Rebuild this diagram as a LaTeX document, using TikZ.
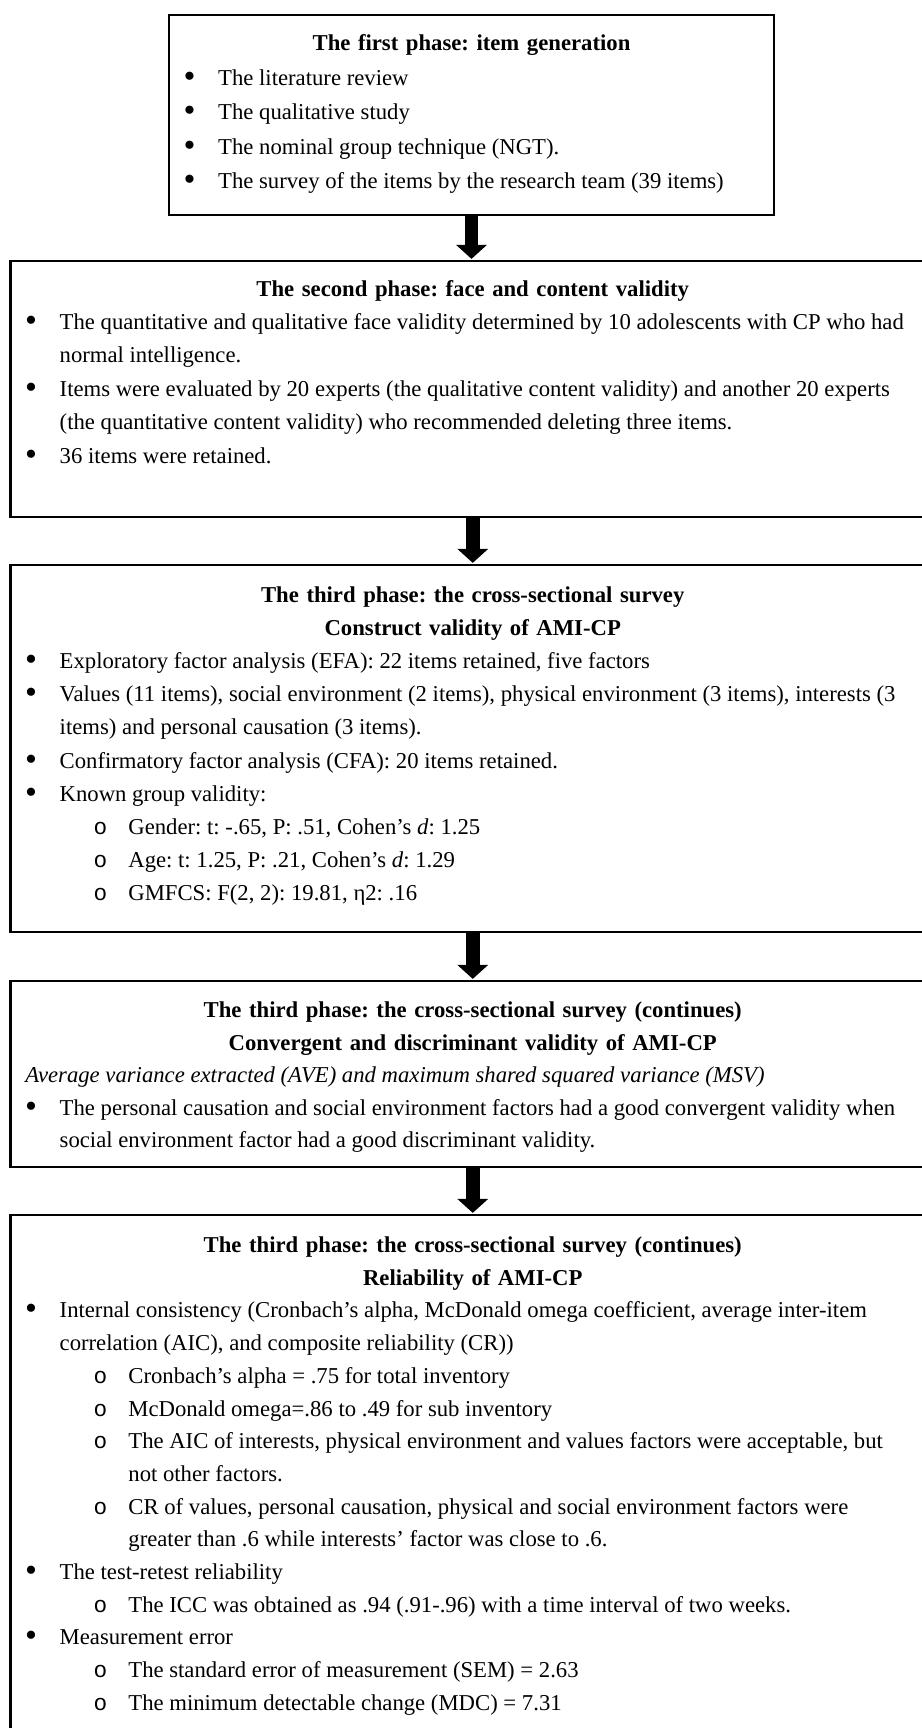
\documentclass[tikz,border=0pt]{standalone}
\usepackage{fontspec}
\setmainfont{Liberation Serif}
\newfontfamily\monofont{Liberation Mono}
\usetikzlibrary{arrows.meta}
\frenchspacing
% bullets and hanging indents
\newcommand{\itm}{\hspace*{7.05pt}\makebox[17.35pt][l]{\raisebox{-1pt}{\scalebox{1.5}{\textbullet}}}}
\newcommand{\ind}{\hspace*{24.4pt}}
\newcommand{\sitm}{\hspace*{41.35pt}\makebox[17.4pt][l]{\monofont o}}
\newcommand{\sind}{\hspace*{58.75pt}}
\begin{document}
\begin{tikzpicture}[x=0.5pt,y=-0.5pt,
  phase/.style={draw,line width=1.1pt,inner sep=0pt},
  ttl/.style={anchor=base,align=center,inner sep=0pt,text width=440pt,font=\fontsize{11.35pt}{#1}\selectfont\bfseries},
  txt/.style={anchor=base west,align=flush left,inner sep=0pt,text width=454pt,font=\fontsize{11.35pt}{#1}\selectfont},
  flow/.style={line width=6.75pt,shorten >=0.5pt,-{Triangle[width=15pt,length=7pt]}}]
\useasboundingbox (0,0) rectangle (921,1728);
% boxes
\node[phase,minimum width=302.5pt,minimum height=100pt] (ph1) at (471.5,115) {};
\node[phase,minimum width=462.25pt,minimum height=128pt] (ph2) at (472.75,389) {};
\node[phase,minimum width=462.25pt,minimum height=183.5pt] (ph3) at (472.75,748.5) {};
\node[phase,minimum width=462.25pt,minimum height=93pt] (ph4) at (472.75,1074) {};
\node[phase,minimum width=462.25pt,minimum height=280pt] (ph5) at (472.75,1495) {};
% titles
\node[ttl=17.3pt] (hd1) at (471.5,50.5) {The first phase: item generation};
\node[ttl=16.7pt] (hd2) at (472.75,296) {The second phase: face and content validity};
\node[ttl=16.55pt] (hd3) at (472.75,602.5) {The third phase: the cross-sectional survey\\Construct validity of AMI-CP};
\node[ttl=16.25pt] (hd4) at (472.75,1017.5) {The third phase: the cross-sectional survey (continues)\\Convergent and discriminant validity of AMI-CP};
\node[ttl=16.35pt] (hd5) at (472.75,1252.5) {The third phase: the cross-sectional survey (continues)\\Reliability of AMI-CP};
% lists
\node[txt=17.3pt,text width=290pt] (tx1) at (169,85.1) {%
\itm The literature review\\
\itm The qualitative study\\
\itm The nominal group technique (NGT).\\
\itm The survey of the items by the research team (39 items)};
\node[txt=16.7pt] (tx2) at (10.5,329.5) {%
\itm The quantitative and qualitative face validity determined by 10 adolescents with CP who had\\
\ind normal intelligence.\\
\itm Items were evaluated by 20 experts (the qualitative content validity) and another 20 experts\\
\ind (the quantitative content validity) who recommended deleting three items.\\
\itm 36 items were retained.};
\node[txt=16.55pt] (tx3) at (10.5,668.7) {%
\itm Exploratory factor analysis (EFA): 22 items retained, five factors\\
\itm Values (11 items), social environment (2 items), physical environment (3 items), interests (3\\
\ind items) and personal causation (3 items).\\
\itm Confirmatory factor analysis (CFA): 20 items retained.\\
\itm Known group validity:\\
\sitm Gender: t: -.65, P: .51, Cohen’s \textit{d}: 1.25\\
\sitm Age: t: 1.25, P: .21, Cohen’s \textit{d}: 1.29\\
\sitm GMFCS: F(2, 2): 19.81, η2: .16};
\node[txt=16.25pt] (tx4) at (10.5,1082.5) {%
\hspace*{7.25pt}\textit{Average variance extracted (AVE) and maximum shared squared variance (MSV)}\\
\itm The personal causation and social environment factors had a good convergent validity when\\
\ind social environment factor had a good discriminant validity.};
\node[txt=16.35pt] (tx5) at (10.5,1317.9) {%
\itm Internal consistency (Cronbach’s alpha, McDonald omega coefficient, average inter-item\\
\ind correlation (AIC), and composite reliability (CR))\\
\sitm Cronbach’s alpha = .75 for total inventory\\
\sitm McDonald omega=.86 to .49 for sub inventory\\
\sitm The AIC of interests, physical environment and values factors were acceptable, but\\
\sind not other factors.\\
\sitm CR of values, personal causation, physical and social environment factors were\\
\sind greater than .6 while interests’ factor was close to .6.\\
\itm The test-retest reliability\\
\sitm The ICC was obtained as .94 (.91-.96) with a time interval of two weeks.\\
\itm Measurement error\\
\sitm The standard error of measurement (SEM) = 2.63\\
\sitm The minimum detectable change (MDC) = 7.31};
% arrows
\draw[flow] (ph1.south) -- (ph1.south |- ph2.north);
\draw[flow] (ph2.south) -- (ph2.north |- ph3.north);
\draw[flow] (ph3.south) -- (ph3.north |- ph4.north);
\draw[flow] (ph4.south) -- (ph4.north |- ph5.north);
\end{tikzpicture}
\end{document}
